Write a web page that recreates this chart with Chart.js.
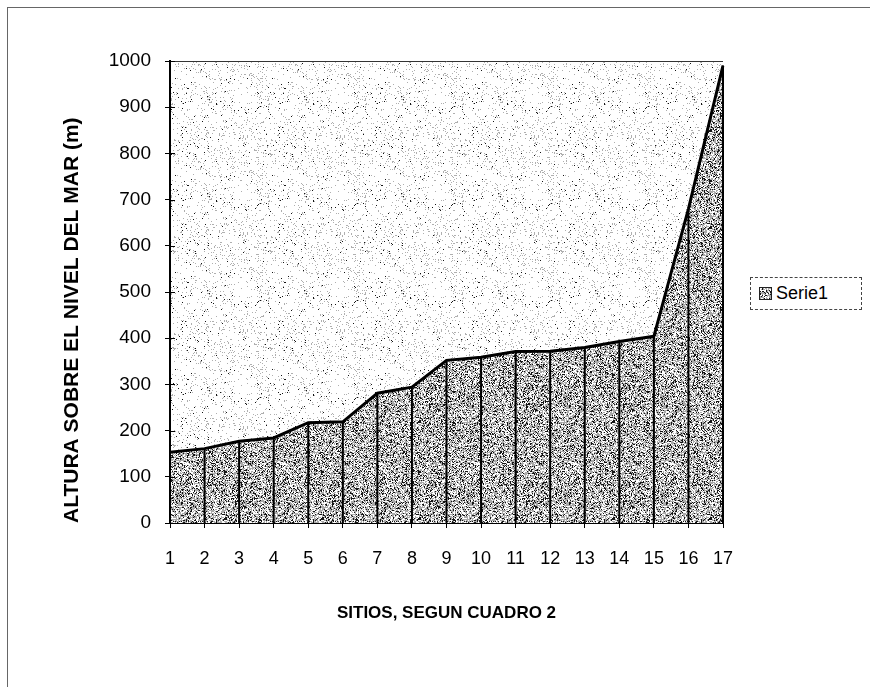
<!DOCTYPE html>
<html>
<head>
<meta charset="utf-8">
<script src="https://cdn.jsdelivr.net/npm/chart.js@4.4.1/dist/chart.umd.min.js"></script>
<style>
  body { margin: 0; background: #fff; }
  #wrap { position: relative; width: 870px; height: 687px; overflow: hidden; }
  #frame { position: absolute; left: 7px; top: 7px; width: 870px; height: 690px;
           border-top: 1px solid #666; border-left: 1px solid #666; }
  #chart { position: absolute; left: 0; top: 0; }
  #legend { position: absolute; left: 750px; top: 277px; width: 112px; height: 33px; box-sizing: border-box;
            border: 1px dashed #444; padding: 0 8px; font: 18px "Liberation Sans", Arial, sans-serif;
            color: #000; display: flex; align-items: center; background: #fff; }
  #legend .sw { width: 11px; height: 11px; border: 1px solid #222; margin-right: 4px; }
</style>
</head>
<body>
<div id="wrap">
  <div id="frame"></div>
  <canvas id="chart" width="870" height="687"></canvas>
  <div id="legend"><span class="sw" id="sw"></span><span id="legendText"></span></div>
</div>
<script>
// data
const sitios = ["1", "2", "3", "4", "5", "6", "7", "8", "9", "10", "11", "12", "13", "14", "15", "16", "17"];
const altura = [153, 161, 177, 184, 217, 219, 281, 294, 352, 359, 371, 372, 380, 393, 404, 680, 990];
const yTicks = [0, 100, 200, 300, 400, 500, 600, 700, 800, 900, 1000];
const serieName = "Serie1";
const yTitle = "ALTURA SOBRE EL NIVEL DEL MAR (m)";
const xTitle = "SITIOS, SEGUN CUADRO 2";

const font = '"Liberation Sans", Arial, sans-serif';

// stipple textures like the scanned print
function makeTexture(size, seed, mix) {
    const c = document.createElement("canvas");
    c.width = c.height = size;
    const g = c.getContext("2d");
    const img = g.createImageData(size, size);
    let s = seed;
    const rnd = () => { s = (s * 1103515245 + 12345) & 0x7fffffff; return s / 0x7fffffff; };
    for (let i = 0; i < size * size; i++) {
        const r = rnd();
        let v = 255;
        if (r < mix.black) v = 20;
        else if (r < mix.black + mix.gray) v = mix.grayValue;
        img.data[i * 4] = img.data[i * 4 + 1] = img.data[i * 4 + 2] = v;
        img.data[i * 4 + 3] = 255;
    }
    g.putImageData(img, 0, 0);
    return c;
}
const bgTex = makeTexture(97, 7, { black: 0.012, gray: 0.07, grayValue: 175 });
const areaTex = makeTexture(97, 31, { black: 0.2, gray: 0.45, grayValue: 170 });

const ctx = document.getElementById("chart").getContext("2d");
const areaPattern = ctx.createPattern(areaTex, "repeat");
const bgPattern = ctx.createPattern(bgTex, "repeat");

document.getElementById("sw").style.backgroundImage = `url(${areaTex.toDataURL()})`;
document.getElementById("legendText").innerText = serieName;

const plotBackground = {
    id: "plotBackground",
    beforeDraw(chart) {
        const { ctx, chartArea: a } = chart;
        ctx.save();
        ctx.fillStyle = bgPattern;
        ctx.fillRect(a.left, a.top, a.right - a.left, a.bottom - a.top);
        ctx.strokeStyle = "#333";
        ctx.lineWidth = 1;
        ctx.beginPath();
        ctx.moveTo(a.left, a.top + 0.5);
        ctx.lineTo(a.right, a.top + 0.5);
        ctx.stroke();
        ctx.restore();
    }
};

// vertical lines from each point down to the axis, and ticks crossing the y axis
const dropLines = {
    id: "dropLines",
    afterDatasetsDraw(chart) {
        const { ctx, scales: { x, y } } = chart;
        ctx.save();
        ctx.strokeStyle = "#000";
        ctx.lineWidth = 2;
        altura.forEach((v, i) => {
            const px = x.getPixelForValue(i);
            ctx.beginPath();
            ctx.moveTo(px, y.getPixelForValue(v));
            ctx.lineTo(px, y.getPixelForValue(0));
            ctx.stroke();
        });
        ctx.lineWidth = 1;
        yTicks.forEach(t => {
            const py = Math.round(y.getPixelForValue(t)) + 0.5;
            ctx.beginPath();
            ctx.moveTo(x.left, py);
            ctx.lineTo(x.left + 5, py);
            ctx.stroke();
        });
        ctx.restore();
    }
};

new Chart(ctx, {
    type: "line",
    data: {
        labels: sitios,
        datasets: [{
            label: serieName,
            data: altura,
            borderColor: "#000",
            borderWidth: 3,
            backgroundColor: areaPattern,
            fill: "origin",
            pointRadius: 0,
            tension: 0
        }]
    },
    options: {
        responsive: false,
        animation: false,
        layout: { padding: { top: 61, right: 147, left: 0, bottom: 0 } },
        plugins: {
            legend: { display: false },
            tooltip: { enabled: false }
        },
        scales: {
            x: {
                offset: false,
                afterFit: s => { s.height = 164; },
                grid: { drawOnChartArea: false, tickLength: 5, color: "#000" },
                border: { color: "#000", width: 2 },
                ticks: { color: "#000", font: { family: font, size: 18 }, padding: 20, maxRotation: 0, autoSkip: false },
                title: { display: true, text: xTitle, color: "#000",
                         font: { family: font, size: 17, weight: "bold" }, padding: { bottom: 63 } }
            },
            y: {
                min: 0,
                max: 1000,
                afterFit: s => { s.width = 170; },
                afterBuildTicks: s => { s.ticks = yTicks.map(v => ({ value: v })); },
                grid: { drawOnChartArea: false, tickLength: 5, color: "#000" },
                border: { color: "#000", width: 2 },
                ticks: { color: "#000", font: { family: font, size: 19 }, padding: 14,
                         callback: v => String(v) },
                title: { display: true, text: yTitle, color: "#000", align: "start",
                         font: { family: font, size: 21, weight: "bold" }, padding: { top: 60 } }
            }
        }
    },
    plugins: [plotBackground, dropLines]
});
</script>
</body>
</html>
